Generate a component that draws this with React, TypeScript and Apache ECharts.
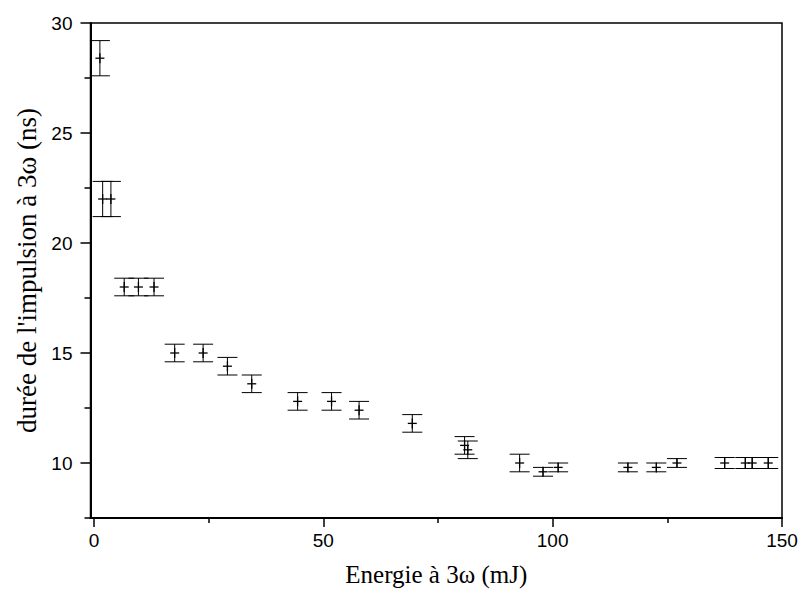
import React, { useEffect, useRef } from "react";
import * as echarts from "echarts";

const energy = [1.3, 1.9, 3.7, 6.6, 9.7, 13.1, 17.6, 23.8, 29.1, 34.4, 44.4, 51.8, 57.8, 69.4, 80.8, 81.5, 92.8, 97.9, 101.2, 116.4, 122.6, 127.1, 137.5, 142.0, 143.5, 147.0];
const duration = [28.4, 22.0, 22.0, 18.0, 18.0, 18.0, 15.0, 15.0, 14.4, 13.6, 12.8, 12.8, 12.4, 11.8, 10.8, 10.6, 10.0, 9.6, 9.8, 9.8, 9.8, 10.0, 10.0, 10.0, 10.0, 10.0];
const errors = [0.8, 0.8, 0.8, 0.4, 0.4, 0.4, 0.4, 0.4, 0.4, 0.4, 0.4, 0.4, 0.4, 0.4, 0.4, 0.4, 0.4, 0.2, 0.2, 0.2, 0.2, 0.2, 0.25, 0.25, 0.25, 0.25];

const xMajorTicks = [0, 50, 100, 150];
const xMinorTicks = [25, 75, 125];
const yMajorTicks = [10, 15, 20, 25, 30];
const yMinorTicks = [7.5, 12.5, 17.5, 22.5, 27.5];

const xTitle = "Energie à 3ω (mJ)";
const yTitle = "durée de l'impulsion à 3ω (ns)";

export default function App() {
  const ref = useRef<HTMLDivElement>(null);
  useEffect(() => {
    if (!ref.current) return;
    const chart = echarts.init(ref.current, null, { renderer: "svg" });
    const data = energy.map((x, i) => [x, duration[i], errors[i]]);
    const tickLabelStyle = { fontFamily: "Liberation Sans", fontSize: 19, color: "#000" };
    const xTitleStyle = { fontFamily: "Liberation Serif", fontSize: 25, color: "#000" };
    const yTitleStyle = { fontFamily: "Liberation Serif", fontSize: 27, color: "#000" };
    const xMin = -0.75, xMax = 150, yMin = 7.5, yMax = 30;
    chart.setOption({
      animation: false,
      backgroundColor: "#fff",
      grid: { left: 90.5, right: 19, top: 23, bottom: 81, show: true, borderColor: "#000", borderWidth: 1.5, backgroundColor: "transparent" },
      xAxis: [
        {
          type: "value", min: xMin, max: xMax, position: "bottom",
          name: xTitle, nameLocation: "middle", nameGap: 44, nameTextStyle: xTitleStyle,
          axisLine: { show: true, onZero: false, lineStyle: { color: "#000", width: 2 } },
          axisTick: { show: true, inside: false, length: 9, customValues: xMajorTicks, lineStyle: { color: "#000", width: 1.5 } },
          axisLabel: { show: true, margin: 13, customValues: xMajorTicks, ...tickLabelStyle },
          splitLine: { show: false },
        },
        {
          type: "value", min: xMin, max: xMax, position: "bottom", offset: 0,
          axisLine: { show: false, onZero: false },
          axisTick: { show: true, inside: false, length: 5, customValues: xMinorTicks, lineStyle: { color: "#000", width: 1.5 } },
          axisLabel: { show: false },
          splitLine: { show: false },
        },
      ],
      yAxis: [
        {
          type: "value", min: yMin, max: yMax, position: "left",
          name: yTitle, nameLocation: "middle", nameGap: 50, nameTextStyle: yTitleStyle,
          axisLine: { show: true, onZero: false, lineStyle: { color: "#000", width: 2 } },
          axisTick: { show: true, inside: false, length: 10, customValues: yMajorTicks, lineStyle: { color: "#000", width: 1.5 } },
          axisLabel: { show: true, margin: 18, customValues: yMajorTicks, ...tickLabelStyle },
          splitLine: { show: false },
        },
        {
          type: "value", min: yMin, max: yMax, position: "left", offset: 0,
          axisLine: { show: false, onZero: false },
          axisTick: { show: true, inside: false, length: 6, customValues: yMinorTicks, lineStyle: { color: "#000", width: 1.5 } },
          axisLabel: { show: false },
          splitLine: { show: false },
        },
      ],
      series: [
        {
          type: "custom",
          xAxisIndex: 0,
          yAxisIndex: 0,
          clip: false,
          data,
          encode: { x: 0, y: 1 },
          renderItem: (params: any, api: any) => {
            const x = api.value(0);
            const y = api.value(1);
            const e = api.value(2);
            const c = api.coord([x, y]);
            const t = api.coord([x, y + e]);
            const b = api.coord([x, y - e]);
            const cap = 10;
            const m = 4.5;
            const style = { stroke: "#000", lineWidth: 1, fill: "none" };
            return {
              type: "group",
              children: [
                { type: "line", shape: { x1: c[0], y1: t[1], x2: c[0], y2: b[1] }, style },
                { type: "line", shape: { x1: c[0] - cap, y1: t[1], x2: c[0] + cap, y2: t[1] }, style },
                { type: "line", shape: { x1: c[0] - cap, y1: b[1], x2: c[0] + cap, y2: b[1] }, style },
                { type: "line", shape: { x1: c[0] - m, y1: c[1], x2: c[0] + m, y2: c[1] }, style: { ...style, lineWidth: 1.3 } },
                { type: "line", shape: { x1: c[0], y1: c[1] - m - 0.5, x2: c[0], y2: c[1] + m + 0.5 }, style: { ...style, lineWidth: 1.3 } },
              ],
            };
          },
        },
      ],
    });
    return () => chart.dispose();
  }, []);
  return <div ref={ref} style={{ position: "fixed", left: 0, top: 0, width: 801, height: 599 }} />;
}
